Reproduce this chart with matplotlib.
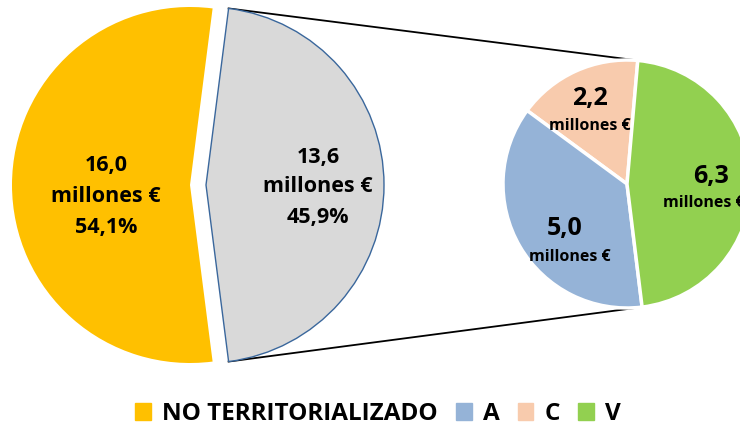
import numpy as np
import matplotlib.pyplot as plt
from matplotlib.patches import Patch

plt.rcParams["font.family"] = ["Open Sans", "DejaVu Sans"]
plt.rcParams["font.weight"] = "bold"

# data
main_labels = ["NO TERRITORIALIZADO", "Resto"]
main_values = [16.0, 13.6]
sub_labels = ["C", "A", "V"]
sub_values = [2.2, 5.0, 6.3]

main_colors = ["#FFC000", "#D9D9D9"]
sub_colors = ["#F8CBAD", "#95B3D7", "#92D050"]

W, H = 740, 426


def py(y):
    # pixel row (from top) -> data y
    return H - y


def fmt(v):
    return f"{v:.1f}".replace(".", ",")


fig = plt.figure(figsize=(W / 100, H / 100), dpi=100)
ax = fig.add_axes([0, 0, 1, 1])

# left pie (explode is in data units here)
c1 = (190, py(185))
r1 = 178
expl = 16
tot1 = sum(main_values)
half = 360 * main_values[1] / tot1 / 2
w1, _ = ax.pie(main_values, colors=main_colors, radius=r1, center=c1,
               startangle=half, explode=[0, expl], counterclock=True,
               wedgeprops=dict(linewidth=0))
w1[1].set_edgecolor("#3A679C")
w1[1].set_linewidth(1.0)

# right pie
c2 = (627, py(184))
r2 = 124
start2 = 85
tot2 = sum(sub_values)
w2, _ = ax.pie(sub_values, colors=sub_colors, radius=r2, center=c2,
               startangle=start2, counterclock=True,
               wedgeprops=dict(edgecolor="white", linewidth=2.5))

# connector lines
apex = (c1[0] + expl, c1[1])
green_deg = 360 * sub_values[2] / tot2
for a1, a2 in [(half, start2), (-half, start2 - green_deg)]:
    p1 = (apex[0] + r1 * np.cos(np.radians(a1)), apex[1] + r1 * np.sin(np.radians(a1)))
    p2 = (c2[0] + r2 * np.cos(np.radians(a2)), c2[1] + r2 * np.sin(np.radians(a2)))
    ax.plot([p1[0], p2[0]], [p1[1], p2[1]], color="black", lw=1.3, zorder=0)

# labels, left pie
pcts = [f"{v / tot1 * 100:.1f}%".replace(".", ",") for v in main_values]
for (x, ys), v, p in zip([(106, (165, 197, 228)), (318, (157, 187, 218))], main_values, pcts):
    for y, s in zip(ys, [fmt(v), "millones €", p]):
        ax.text(x, py(y), s, ha="center", va="center", fontsize=15.5, fontweight="bold")

# labels, right pie (the green one runs off the right edge, as in the source)
sub_pos = [((590, 98), (590, 126)), ((565, 229), (570, 257)), ((711, 176), (704, 203))]
for ((xn, yn), (xm, ym)), v in zip(sub_pos, sub_values):
    ax.text(xn, py(yn), fmt(v), ha="center", va="center", fontsize=18, fontweight="bold")
    ax.text(xm, py(ym), "millones €", ha="center", va="center", fontsize=11.5, fontweight="bold")

ax.set_xlim(0, W)
ax.set_ylim(0, H)
ax.set_aspect("equal")
ax.axis("off")

handles = [Patch(color=main_colors[0], label=main_labels[0])]
for lab, col in zip(["A", "C", "V"], [sub_colors[1], sub_colors[0], sub_colors[2]]):
    handles.append(Patch(color=col, label=lab))
fig.legend(handles=handles, loc="center", bbox_to_anchor=(378 / W, 1 - 414 / H),
           ncol=4, frameon=False, handlelength=0.65, handleheight=0.65,
           handletextpad=0.45, columnspacing=0.75, prop=dict(weight="bold", size=17.5))

fig.savefig("out.png", dpi=100)
